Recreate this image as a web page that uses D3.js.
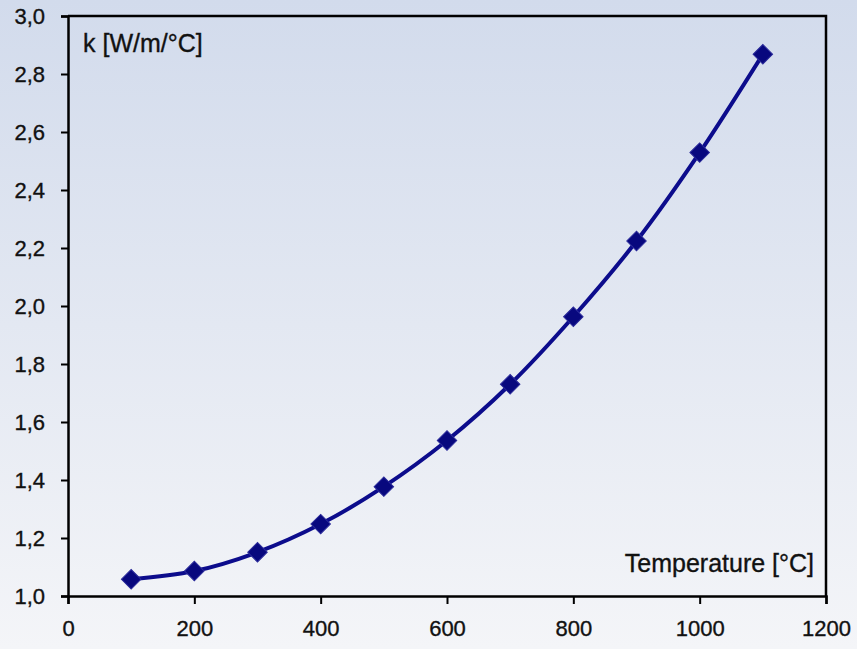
<!DOCTYPE html>
<html>
<head>
<meta charset="utf-8">
<script src="https://cdn.jsdelivr.net/npm/d3@7"></script>
<style>
  html, body { margin: 0; padding: 0; background: #f3f4f8; }
  svg { display: block; }
  text { font-family: "Liberation Sans", Arial, sans-serif; fill: #111; stroke: #111; stroke-width: 0.35px; }
</style>
</head>
<body>
<svg id="chart" width="857" height="649"></svg>
<script>
// Thermal conductivity vs. temperature
const temperatures = [100, 200, 300, 400, 500, 600, 700, 800, 900, 1000, 1100];
const conductivity = [1.058, 1.086, 1.151, 1.248, 1.377, 1.536, 1.730, 1.963, 2.224, 2.529, 2.868];
const xTicks = [0, 200, 400, 600, 800, 1000, 1200];
const yTicks = [1.0, 1.2, 1.4, 1.6, 1.8, 2.0, 2.2, 2.4, 2.6, 2.8, 3.0];
const yTitle = "k [W/m/°C]";
const xTitle = "Temperature [°C]";

const W = 857, H = 649;
const m = { left: 68, right: 31, top: 16, bottom: 53 };

const svg = d3.select("#chart");

// soft vertical background gradient
const defs = svg.append("defs");
const grad = defs.append("linearGradient")
  .attr("id", "bg").attr("x1", 0).attr("y1", 0).attr("x2", 0).attr("y2", 1);
grad.append("stop").attr("offset", "0%").attr("stop-color", "#d2dbec");
grad.append("stop").attr("offset", "100%").attr("stop-color", "#f4f5f8");
svg.append("rect").attr("width", W).attr("height", H).attr("fill", "url(#bg)");

const x = d3.scaleLinear().domain([0, 1200]).range([m.left, W - m.right]);
const y = d3.scaleLinear().domain([1.0, 3.0]).range([H - m.bottom, m.top]);

const fmt = v => d3.format(".1f")(v).replace(".", ",");

// frame: top and right edges
svg.append("path")
  .attr("d", `M${x(0)},${y(3.0)}H${x(1200)}V${y(1.0)}`)
  .attr("fill", "none").attr("stroke", "#000").attr("stroke-width", 2.5);

// y axis
const yAxis = svg.append("g")
  .attr("transform", `translate(${x(0)},0)`)
  .call(d3.axisLeft(y).tickValues(yTicks).tickFormat(fmt).tickSize(7).tickPadding(16));
yAxis.select(".domain").attr("stroke", "#000").attr("stroke-width", 2.5);
yAxis.selectAll(".tick line").attr("stroke", "#000").attr("stroke-width", 2);
yAxis.selectAll(".tick text")
  .style("font-size", "22px").style("font-family", "'Liberation Sans', Arial, sans-serif")
  .attr("fill", "#111");

// x axis
const xAxis = svg.append("g")
  .attr("transform", `translate(0,${y(1.0)})`)
  .call(d3.axisBottom(x).tickValues(xTicks).tickFormat(d3.format("d")).tickSize(8).tickPadding(16));
xAxis.select(".domain").attr("stroke", "#000").attr("stroke-width", 2.5);
xAxis.selectAll(".tick line").attr("stroke", "#000").attr("stroke-width", 2);
xAxis.selectAll(".tick text")
  .style("font-size", "22px").style("font-family", "'Liberation Sans', Arial, sans-serif")
  .attr("fill", "#111");

// axis titles inside the plot area
svg.append("text")
  .attr("x", 83).attr("y", 51.5)
  .style("font-size", "25px")
  .text(yTitle);
svg.append("text")
  .attr("x", 814).attr("y", 571.5)
  .attr("text-anchor", "end")
  .style("font-size", "25px")
  .text(xTitle);

// data series
const pts = temperatures.map((t, i) => [t, conductivity[i]]);
const line = d3.line()
  .x(d => x(d[0])).y(d => y(d[1]))
  .curve(d3.curveCatmullRom.alpha(0.5));

svg.append("path")
  .datum(pts)
  .attr("d", line)
  .attr("fill", "none")
  .attr("stroke", "#0c0c8c")
  .attr("stroke-width", 4)
  .attr("stroke-linejoin", "round");

const diamond = d3.symbol().type(d3.symbolSquare).size(190);
svg.append("g").selectAll("path")
  .data(pts)
  .join("path")
  .attr("d", diamond)
  .attr("transform", d => `translate(${x(d[0])},${y(d[1])}) rotate(45)`)
  .attr("fill", "#08087e")
  .attr("stroke", "#2a2a9a")
  .attr("stroke-width", 1);
</script>
</body>
</html>
